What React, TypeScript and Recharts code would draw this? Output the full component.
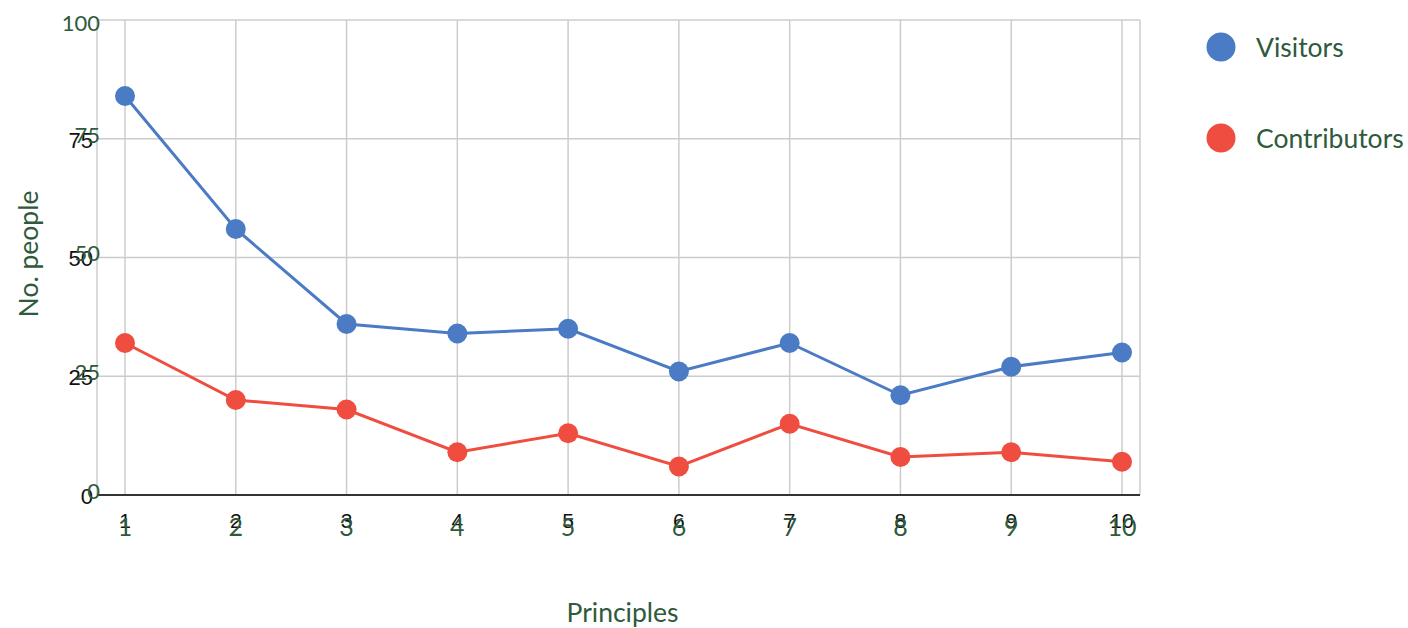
import React from 'react';
import { LineChart, Line, XAxis, YAxis, CartesianGrid } from 'recharts';

const principles = ['1', '2', '3', '4', '5', '6', '7', '8', '9', '10'];
const visitors = [84, 56, 36, 34, 35, 26, 32, 21, 27, 30];
const contributors = [32, 20, 18, 9, 13, 6, 15, 8, 9, 7];
const yTicks = [0, 25, 50, 75, 100];
const seriesNames = ['Visitors', 'Contributors'];

const data = principles.map((p, i) => ({ x: p, visitors: visitors[i], contributors: contributors[i] }));

const GREEN = '#2f5a3c';
const BLUE = '#4a7bc4';
const RED = '#f04d41';
const GFONT = 'Lato, "Open Sans", sans-serif';
const BFONT = 'Arial, "Liberation Sans", sans-serif';

const YTick = (props: any) => {
  const { x, y, payload } = props;
  const v = payload.value;
  return (
    <g>
      {v !== 100 && (
        <text x={x - 4} y={y + 1} dy="0.36em" textAnchor="end" fontFamily={BFONT} fontSize={22} fill="#111">
          {v}
        </text>
      )}
      <text x={x + 3} y={v === 100 ? y + 3 : y - 4} dy="0.36em" textAnchor="end" fontFamily={GFONT} fontSize={22} fill={GREEN}>
        {v}
      </text>
    </g>
  );
};

const XTick = (props: any) => {
  const { x, y, payload } = props;
  return (
    <g>
      <text x={x} y={y + 25} dy="0.36em" textAnchor="middle" fontFamily={BFONT} fontSize={21} fill="#111">
        {payload.value}
      </text>
      <text x={x} y={y + 32} dy="0.36em" textAnchor="middle" fontFamily={GFONT} fontSize={25} fill={GREEN}>
        {payload.value}
      </text>
    </g>
  );
};

const legendColors = [BLUE, RED];

export default function App() {
  return (
    <div style={{ position: 'absolute', left: 0, top: 0, width: 1408, height: 628, background: '#fff' }}>
      <LineChart width={1408} height={628} data={data} margin={{ top: 20, right: 268, left: 0, bottom: 0 }}>
        <CartesianGrid stroke="#cccccc" strokeWidth={1.5} />
        <XAxis
          dataKey="x"
          padding={{ left: 28, right: 18 }}
          height={133}
          tickLine={false}
          tickSize={0}
          tickMargin={0}
          axisLine={{ stroke: '#333', strokeWidth: 2 }}
          tick={<XTick />}
          interval={0}
          label={{
            content: (p: any) => {
              const vb = p.viewBox;
              return (
                <text x={vb.x + vb.width / 2 + 4} y={622} textAnchor="middle" fontFamily={GFONT} fontSize={26.5} fill={GREEN}>
                  Principles
                </text>
              );
            },
          }}
        />
        <YAxis
          domain={[0, 100]}
          ticks={yTicks}
          width={97}
          tickLine={false}
          tickSize={0}
          tickMargin={0}
          axisLine={false}
          tick={<YTick />}
          interval={0}
          label={{
            content: () => (
              <text x={38} y={254} textAnchor="middle" fontFamily={GFONT} fontSize={26.5} fill={GREEN} transform="rotate(-90 38 254)">
                No. people
              </text>
            ),
          }}
        />
        <Line type="linear" dataKey="contributors" name="Contributors" stroke={RED} strokeWidth={3} dot={{ r: 10, fill: RED, stroke: 'none' }} activeDot={false} isAnimationActive={false} />
        <Line type="linear" dataKey="visitors" name="Visitors" stroke={BLUE} strokeWidth={3} dot={{ r: 10, fill: BLUE, stroke: 'none' }} activeDot={false} isAnimationActive={false} />
      </LineChart>
      <div style={{ position: 'absolute', left: 1206, top: 32, width: 202, height: 130 }}>
        {seriesNames.map((name, i) => (
          <div key={name} style={{ position: 'absolute', left: 0, top: i * 91, height: 30, display: 'flex', alignItems: 'center', whiteSpace: 'nowrap' }}>
            <svg width={30} height={30} style={{ display: 'block' }}>
              <circle cx={15} cy={15} r={14.5} fill={legendColors[i]} />
            </svg>
            <span style={{ marginLeft: 20, fontFamily: GFONT, fontSize: 26.5, color: GREEN }}>{name}</span>
          </div>
        ))}
      </div>
    </div>
  );
}
